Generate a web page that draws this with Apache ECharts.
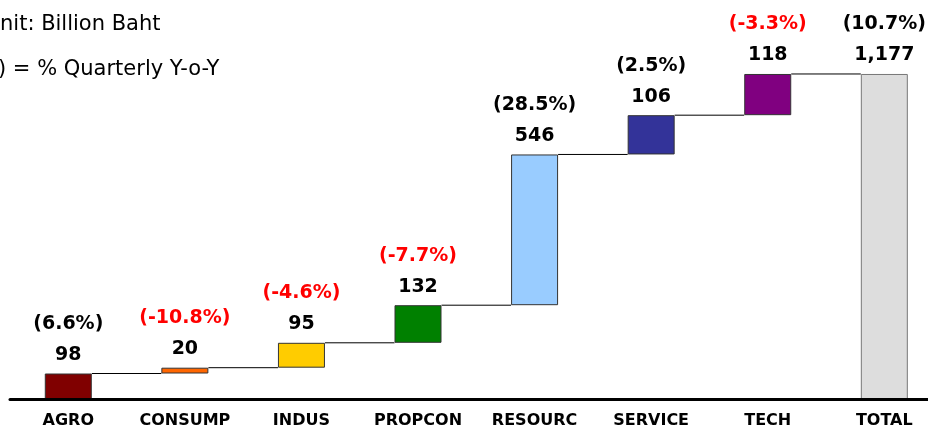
<!DOCTYPE html>
<html>
<head>
<meta charset="utf-8">
<script src="https://cdn.jsdelivr.net/npm/echarts@6/dist/echarts.min.js"></script>
<style>
  html, body { margin: 0; padding: 0; background: #fff; }
  #chart { width: 928px; height: 427px; }
</style>
</head>
<body>
<div id="chart"></div>
<script>
  // sectors, labels and Y-o-Y change
  const categories = ['AGRO', 'CONSUMP', 'INDUS', 'PROPCON', 'RESOURC', 'SERVICE', 'TECH', 'TOTAL']
  const values = [98, 20, 95, 132, 546, 106, 118, 1177]
  const yoy = [6.6, -10.8, -4.6, -7.7, 28.5, 2.5, -3.3, 10.7]
  // running top of each bar as drawn in the picture (last one is the total)
  const barTop = [94, 115, 205, 341, 886, 1028, 1177, 1177]
  const colors = ['#800000', '#FF6600', '#FFCC00', '#008000', '#99CCFF', '#333399', '#800080', '#DDDDDD']

  const BAR_W = 47
  const isTotal = (i) => i === categories.length - 1
  const base = barTop.map((t, i) => (i === 0 || isTotal(i) ? 0 : barTop[i - 1]))
  const span = barTop.map((t, i) => t - base[i])

  let chart = echarts.init(document.getElementById('chart'))
  chart.setOption({
    animation: false,
    backgroundColor: '#fff',
    textStyle: { fontFamily: 'DejaVu Sans' },
    graphic: [
      {
        type: 'text',
        left: 0,
        top: 14,
        style: { text: 'nit: Billion Baht', font: '21px "DejaVu Sans"', fill: '#000' },
      },
      {
        type: 'text',
        left: -2,
        top: 59,
        style: { text: ') = % Quarterly Y-o-Y', font: '21px "DejaVu Sans"', fill: '#000' },
      },
    ],
    // the last band runs past the right edge of the picture
    grid: { left: 10, right: -14.6, top: 12.3, bottom: 27.5, outerBoundsMode: 'none' },
    xAxis: {
      type: 'category',
      data: categories,
      axisTick: { show: false },
      axisLine: { lineStyle: { color: '#000', width: 3 } },
      axisLabel: {
        color: '#000',
        fontWeight: 'bold',
        fontSize: 16,
        fontFamily: 'DejaVu Sans',
        margin: 13,
        interval: 0,
      },
      z: 10,
    },
    yAxis: { type: 'value', min: 0, max: 1400, show: false },
    series: [
      {
        name: 'base',
        type: 'bar',
        stack: 'w',
        barWidth: BAR_W,
        itemStyle: { color: 'transparent' },
        silent: true,
        data: base,
      },
      {
        name: 'value',
        type: 'bar',
        stack: 'w',
        barWidth: BAR_W,
        data: span.map((v, i) => ({
          value: v,
          itemStyle: {
            color: colors[i],
            borderColor: isTotal(i) ? '#777' : '#333',
            borderWidth: 1,
          },
        })),
        label: {
          show: true,
          position: 'top',
          distance: 3,
          formatter: (p) => {
            const i = p.dataIndex
            const pct = '(' + yoy[i].toFixed(1) + '%)'
            const tag = yoy[i] < 0 ? 'neg' : 'pos'
            return '{' + tag + '|' + pct + '}\n{v|' + values[i].toLocaleString('en-US') + '}'
          },
          rich: {
            pos: { color: '#000', fontWeight: 'bold', fontSize: 19, fontFamily: 'DejaVu Sans', lineHeight: 31 },
            neg: { color: '#FF0000', fontWeight: 'bold', fontSize: 19, fontFamily: 'DejaVu Sans', lineHeight: 31 },
            v: { color: '#000', fontWeight: 'bold', fontSize: 19, fontFamily: 'DejaVu Sans', lineHeight: 31 },
          },
        },
      },
      {
        // thin connectors from each bar top to the next bar
        name: 'connector',
        type: 'custom',
        silent: true,
        z: 1,
        data: barTop.slice(0, -1).map((t, i) => [i, t]),
        renderItem: (params, api) => {
          const i = api.value(0)
          const t = api.value(1)
          const p1 = api.coord([i, t])
          const p2 = api.coord([i + 1, t])
          return {
            type: 'line',
            shape: { x1: p1[0] + BAR_W / 2, y1: p1[1], x2: p2[0] - BAR_W / 2, y2: p2[1] },
            style: { stroke: '#000', lineWidth: 1 },
          }
        },
      },
    ],
  })

  window.onresize = function () {
    chart.resize()
  }
</script>
</body>
</html>
